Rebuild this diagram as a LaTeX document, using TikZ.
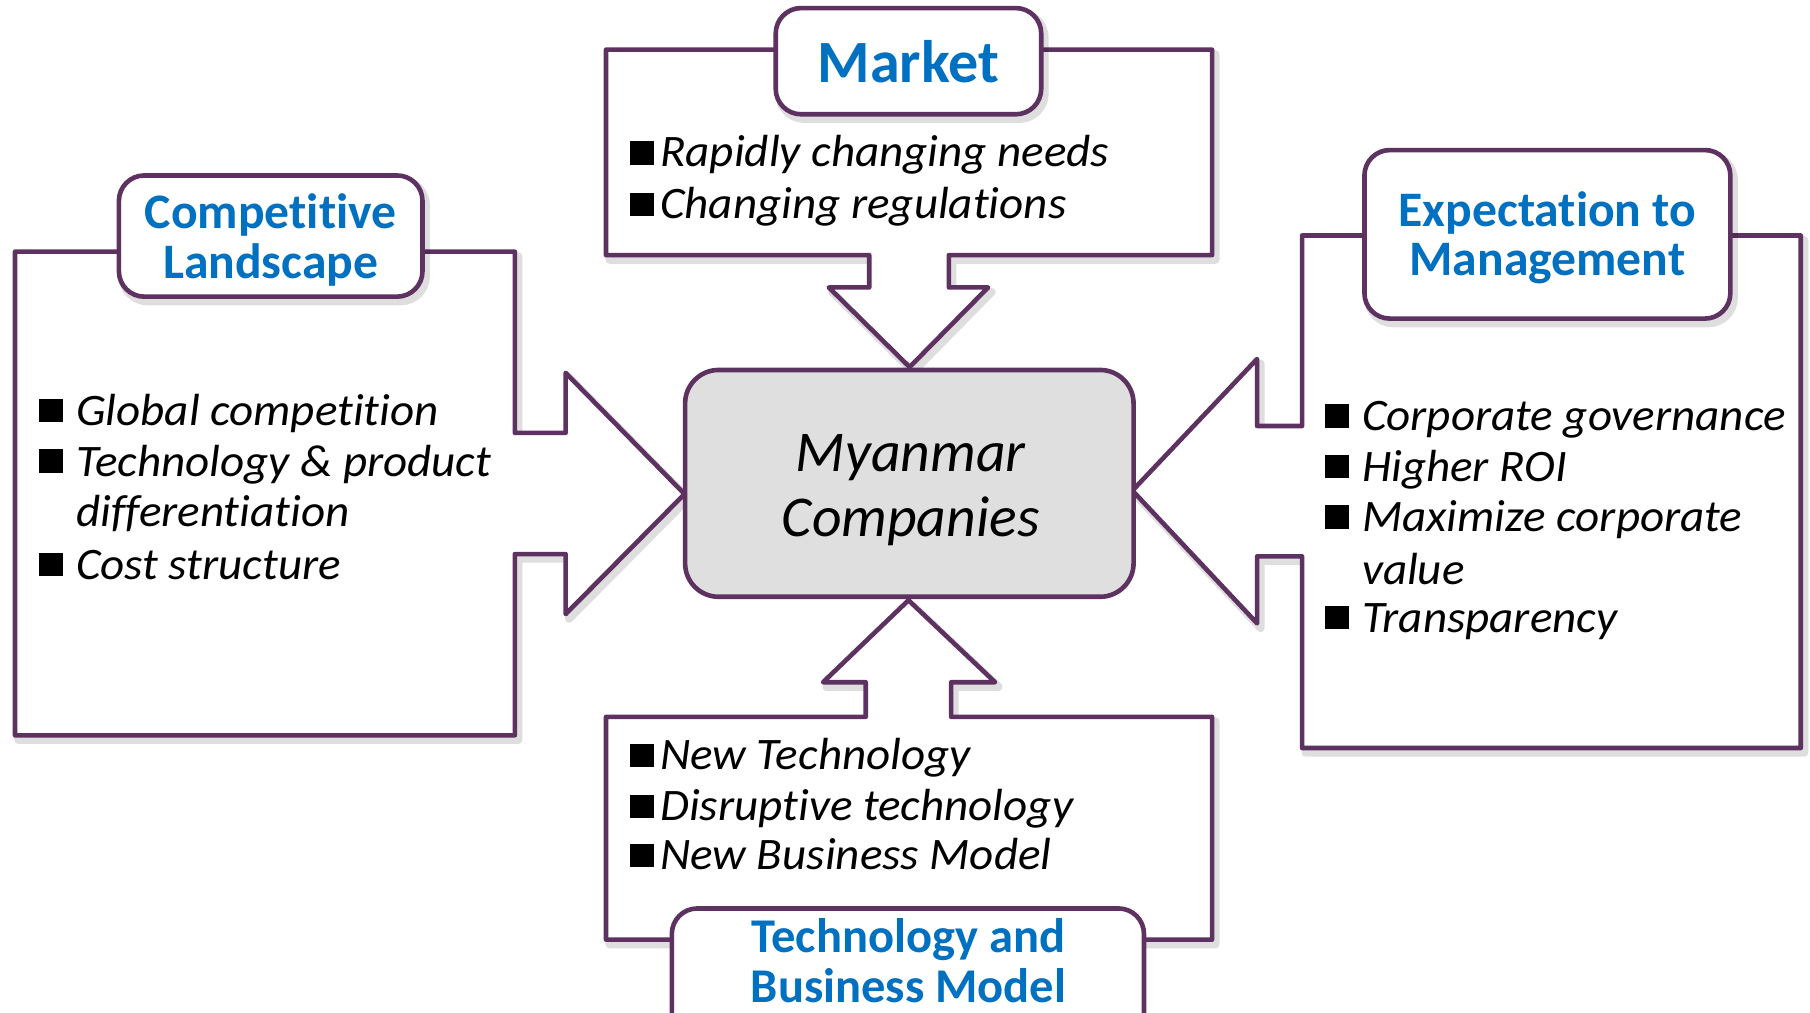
\documentclass[tikz,border=0pt]{standalone}
\usepackage{fontspec}
\setmainfont{Carlito}[Ligatures=NoCommon]
\newfontfamily\itmfont{Carlito}[Ligatures=NoCommon, ItalicFeatures={FakeStretch=1.045}]
\definecolor{pur}{HTML}{5E3260}
\definecolor{blu}{HTML}{0070C0}
\definecolor{cfill}{HTML}{DFDFDF}
\begin{document}
\begin{tikzpicture}[x=1pt,y=-1pt,
  frame/.style={draw=pur, line width=4pt, line join=round, fill=white},
  shad/.style={draw=black, opacity=0.13, line width=7pt, line join=round, shift={(3,4)}},
  titlebox/.style={draw=pur, line width=4pt, fill=white, rounded corners=22pt},
  ttl/.style={font=\fontsize{43}{44}\selectfont\bfseries, text=blu, anchor=base, inner sep=0pt},
  itm/.style={font=\itmfont\fontsize{39}{44}\selectfont\itshape, anchor=base west, inner sep=0pt},
  ctr/.style={font=\fontsize{50}{56}\selectfont\itshape, anchor=base, inner sep=0pt},
  sq/.style={fill=black, inner sep=0pt, minimum size=20.5pt, anchor=south west}]
\path[use as bounding box, clip] (0,0) rectangle (1568,876.7);
\fill[white] (0,0) rectangle (1568,876.7);

% shadows
\draw[shad] (13,218) -- (446,218) -- (446,375) -- (490,375) -- (490,323) -- (593,428) -- (490,532) -- (490,480) -- (446,480) -- (446,637) -- (13,637) -- cycle;
\draw[shad] (525,43) -- (1050,43) -- (1050,221) -- (822,221) -- (822,249) -- (856,249) -- (788,318) -- (718,249) -- (753,249) -- (753,221) -- (525,221) -- cycle;
\draw[shad] (1128,204) -- (1560,204) -- (1560,648) -- (1128,648) -- (1128,482) -- (1089,482) -- (1089,540) -- (981,425) -- (1089,311) -- (1089,369) -- (1128,369) -- cycle;
\draw[shad] (525,621) -- (750,621) -- (750,591) -- (713,591) -- (787,520) -- (862,591) -- (824,591) -- (824,621) -- (1050,621) -- (1050,814) -- (525,814) -- cycle;

% frames with arrows
\draw[frame] (13,218) -- (446,218) -- (446,375) -- (490,375) -- (490,323) -- (593,428) -- (490,532) -- (490,480) -- (446,480) -- (446,637) -- (13,637) -- cycle;
\draw[frame] (525,43) -- (1050,43) -- (1050,221) -- (822,221) -- (822,249) -- (856,249) -- (788,318) -- (718,249) -- (753,249) -- (753,221) -- (525,221) -- cycle;
\draw[frame] (1128,204) -- (1560,204) -- (1560,648) -- (1128,648) -- (1128,482) -- (1089,482) -- (1089,540) -- (981,425) -- (1089,311) -- (1089,369) -- (1128,369) -- cycle;
\draw[frame] (525,621) -- (750,621) -- (750,591) -- (713,591) -- (787,520) -- (862,591) -- (824,591) -- (824,621) -- (1050,621) -- (1050,814) -- (525,814) -- cycle;

% title boxes
\draw[shad, rounded corners=22pt] (103,152) rectangle (366,257);
\draw[titlebox] (103,152) rectangle (366,257);
\draw[shad, rounded corners=22pt] (672,7) rectangle (902,99);
\draw[titlebox] (672,7) rectangle (902,99);
\draw[shad, rounded corners=22pt] (1182,130) rectangle (1499,276);
\draw[titlebox] (1182,130) rectangle (1499,276);
\draw[titlebox] (582,787) rectangle (991,910);

% center box
\draw[draw=pur, line width=4pt, fill=cfill, rounded corners=29pt] (593.5,320.5) rectangle (982,517);
\node[ctr] (c1) at (789,408.6) {Myanmar};
\node[ctr] (c2) at (789,464.9) {Companies};

% titles
\node[ttl] (tl1) at (234.5,198) {Competitive};
\node[ttl] (tl2) at (234.5,241) {Landscape};
\node[ttl, font=\fontsize{52}{52}\selectfont\bfseries] (tm) at (787,71.6) {Market};
\node[ttl, font=\fontsize{43}{43}\selectfont\bfseries] (tr1) at (1340.5,196.4) {Expectation to};
\node[ttl, font=\fontsize{43}{43}\selectfont\bfseries] (tr2) at (1340.5,238.8) {Management};
\node[ttl, font=\fontsize{42}{42}\selectfont\bfseries] (tb1) at (787,825.3) {Technology and};
\node[ttl, font=\fontsize{42}{42}\selectfont\bfseries] (tb2) at (787,868.6) {Business Model};

% left items
\node[sq] (ls1) at (34,366) {};
\node[itm] (li1) at (65.7,368.6) {Global competition};
\node[sq] (ls2) at (34,410) {};
\node[itm] (li2) at (65.7,412.4) {Technology \& product};
\node[itm] (li2b) at (65.7,456.5) {differentiation};
\node[sq] (ls3) at (34,499.5) {};
\node[itm] (li3) at (65.7,502) {Cost structure};

% top items
\node[sq] (ts1) at (545.5,143) {};
\node[itm] (ti1) at (571.7,144.4) {Rapidly changing needs};
\node[sq] (ts2) at (545.5,187.5) {};
\node[itm] (ti2) at (571.7,189) {Changing regulations};

% right items
\node[sq] (rs1) at (1148,371) {};
\node[itm] (ri1) at (1179.7,373.3) {Corporate governance};
\node[sq] (rs2) at (1148,414.5) {};
\node[itm] (ri2) at (1179.7,416.7) {Higher ROI};
\node[sq] (rs3) at (1148,458.5) {};
\node[itm] (ri3) at (1179.7,460.8) {Maximize corporate};
\node[itm] (ri3b) at (1179.7,506) {value};
\node[sq] (rs4) at (1148,545.3) {};
\node[itm] (ri4) at (1179.7,547.6) {Transparency};

% bottom items
\node[sq] (bs1) at (545.5,665) {};
\node[itm] (bi1) at (571.7,666.4) {New Technology};
\node[sq] (bs2) at (545.5,709) {};
\node[itm] (bi2) at (571.7,710.4) {Disruptive technology};
\node[sq] (bs3) at (545.5,751.6) {};
\node[itm] (bi3) at (571.7,753) {New Business Model};
\end{tikzpicture}
\end{document}
